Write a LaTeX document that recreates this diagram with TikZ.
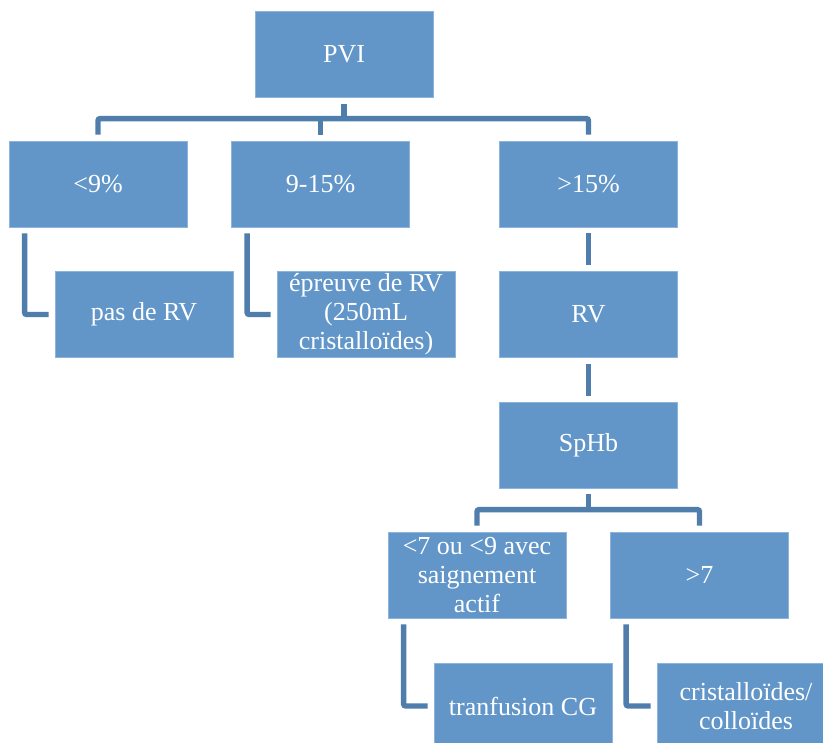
\documentclass[tikz,border=0pt]{standalone}
\usepackage{fontspec}
\setmainfont{Liberation Serif}
\definecolor{boxblue}{RGB}{98,150,201}
\definecolor{boxedge}{RGB}{141,180,220}
\definecolor{linkblue}{RGB}{79,126,172}
\begin{document}
\begin{tikzpicture}[x=0.75pt,y=-0.75pt]
\tikzstyle{box}=[rectangle,fill=boxblue,draw=boxedge,line width=0.6pt,minimum width=133.5pt,minimum height=64.5pt,inner xsep=1pt,inner ysep=0pt,text=white,align=center,font=\fontsize{19.5}{21.75}\selectfont]
\tikzstyle{link}=[draw=linkblue,line width=4pt,rounded corners=1.5pt]
\useasboundingbox (0,0) rectangle (823,742);
\clip (0,0) rectangle (823,742);
\fill[white] (0,0) rectangle (823,742);
% boxes
\node[box] (pvi) at (344,54.5) {PVI};
\node[box] (lt9) at (98,184) {<9\%};
\node[box] (mid) at (320.5,184) {9-15\%};
\node[box] (gt15) at (588.5,184) {>15\%};
\node[box] (pasrv) at (144,314.5) {pas de RV};
\node[box] (epreuve) at (366,314.5) {épreuve de RV\\(250mL\\cristalloïdes)};
\node[box] (rv) at (588.5,314.5) {RV};
\node[box] (sphb) at (588.5,445) {SpHb};
\node[box] (lt7) at (477,575) {<7 ou <9 avec\\saignement\\actif};
\node[box] (gt7) at (699.5,575) {>7};
\node[box] (tranf) at (523,706) {tranfusion CG};
\node[box] (crist) at (746,706) {cristalloïdes/\\colloïdes};
% branching
\foreach \p/\l/\r in {pvi/lt9/gt15,sphb/lt7/gt7}{
\draw[link] ([yshift=-4.5pt]\p.south) -- ([yshift=-16.5pt]\p.south);
\draw[link] ([yshift=4.5pt]\l.north) |- ([yshift=16.5pt]\r.north) -- ([yshift=4.5pt]\r.north);
}
\draw[link] ([yshift=4.5pt]mid.north) -- ([yshift=16.5pt]mid.north);
\foreach \a/\b in {gt15/rv,rv/sphb}{
\draw[link] ([yshift=-4.5pt]\a.south) -- ([yshift=4.5pt]\b.north);
}
\foreach \p/\c in {lt9/pasrv,mid/epreuve,lt7/tranf,gt7/crist}{
\draw[link] ([xshift=12pt,yshift=-4.5pt]\p.south west) |- ([xshift=-4.5pt]\c.west);
}
\end{tikzpicture}
\end{document}
